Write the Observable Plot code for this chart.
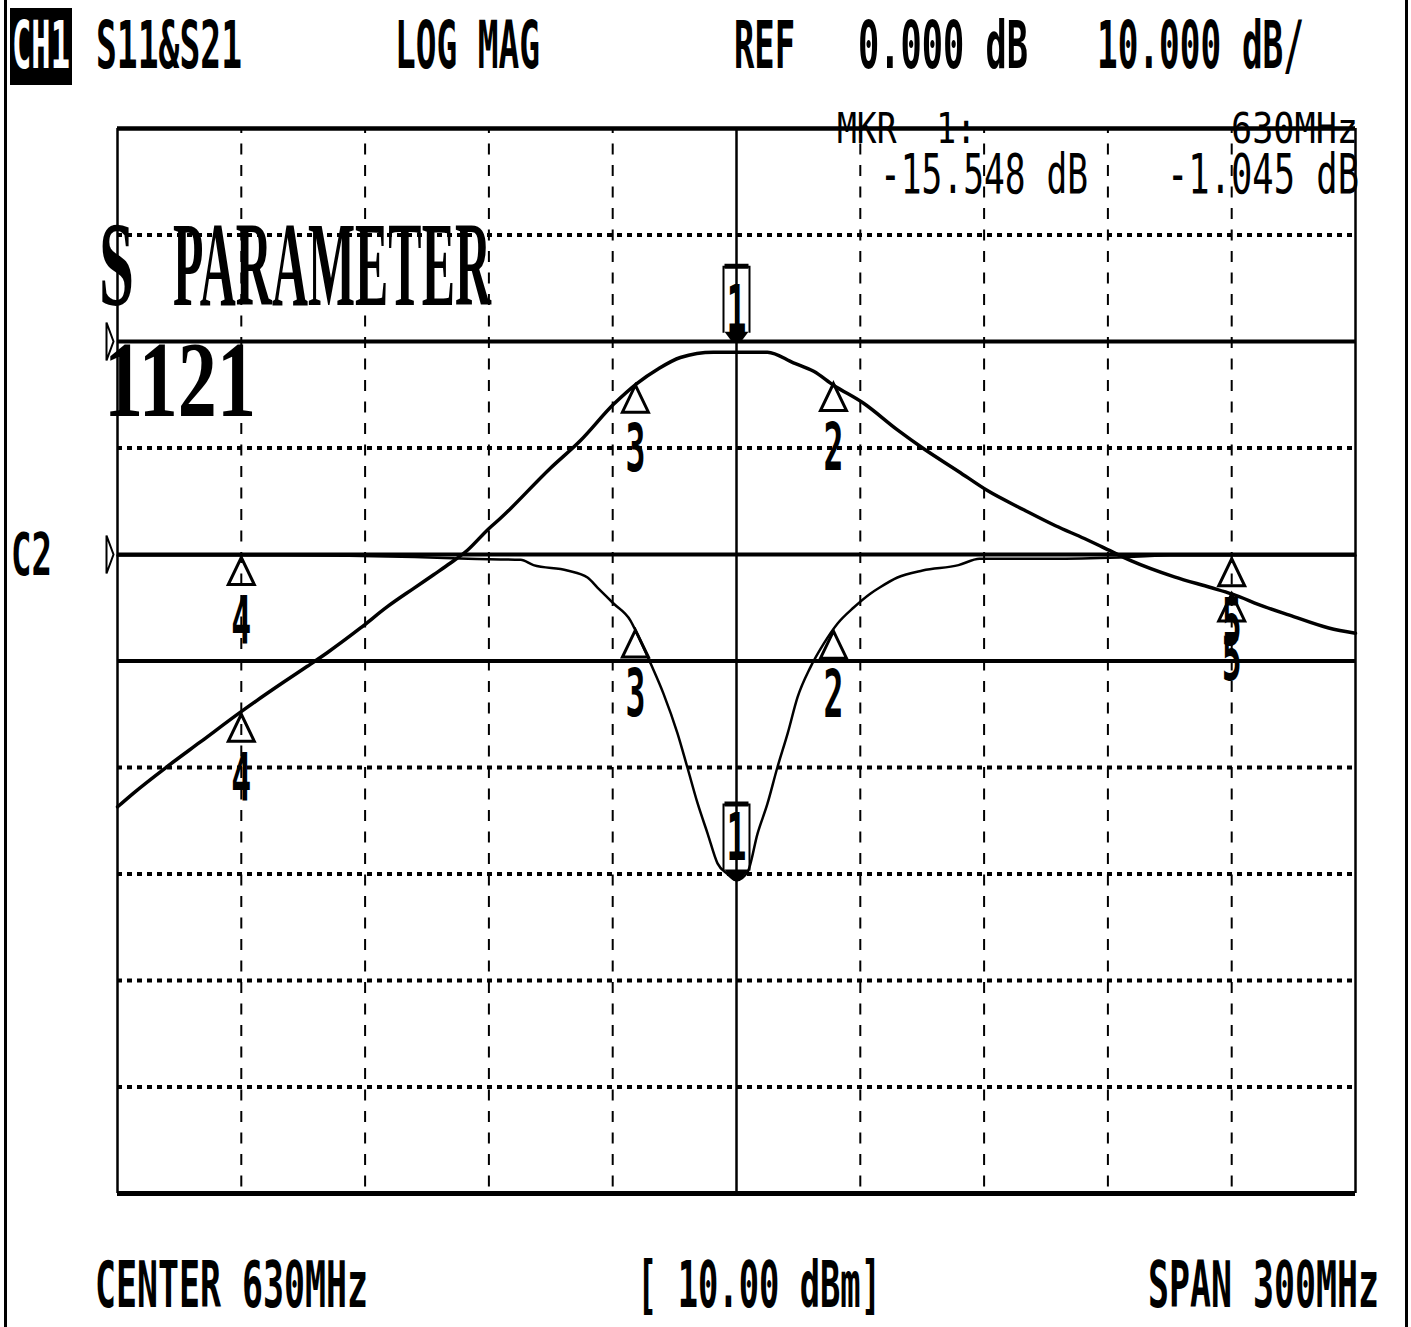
<!DOCTYPE html>
<html><head><meta charset="utf-8">
<script src="https://cdn.jsdelivr.net/npm/d3@7"></script>
<script src="https://cdn.jsdelivr.net/npm/@observablehq/plot@0.6"></script>
<style>
html,body{margin:0;padding:0;background:#fff;}
#chart{width:1411px;height:1327px;position:relative;}
</style></head><body><div id="chart"></div>
<script>
// ---- data (frequencies in MHz, levels in dB) ----
const freqS21 = [480, 483.9, 492.1, 500.1, 509.8, 520.2, 526.0, 530.9, 538.9, 545.4, 551.7, 556.6, 560.7, 564.8, 569.9, 572.8, 584.9, 592.2, 600.2, 606.0, 610.9, 616.4, 624.4, 630.0, 637.5, 643.8, 648.7, 653.5, 660.8, 669.0, 675.1, 683.8, 690.8, 699.6, 707.3, 714.3, 718.7, 725.7, 736.1, 744.9, 750.0, 757.9, 764.0, 773.5, 780];
const s21dB    = [-43.7, -42.4, -39.9, -37.6, -34.8, -32.0, -30.5, -29.2, -26.9, -24.9, -23.2, -21.9, -20.8, -19.6, -17.6, -16.6, -11.9, -9.3, -5.9, -3.9, -2.6, -1.5, -1.0, -1.0, -1.0, -2.0, -2.8, -4.1, -5.8, -8.3, -10.0, -12.2, -14.0, -15.8, -17.3, -18.5, -19.3, -20.6, -22.1, -23.1, -23.7, -24.9, -25.7, -26.9, -27.4];

const freqS11 = [480, 520, 552, 565, 577.7, 580.8, 589.0, 593.9, 596.3, 600.2, 604.3, 606.0, 609.2, 612.3, 615.7, 618.1, 620.6, 623.0, 625.4, 627.8, 630.0, 632.7, 635.1, 637.5, 639.9, 642.4, 644.8, 647.9, 651.1, 654.5, 658.4, 662.5, 664.7, 669.0, 675.1, 683.8, 688.9, 705, 720.4, 735, 780];
const s11dB    = [-0.05, -0.05, -0.12, -0.2, -0.25, -0.5, -0.75, -1.08, -1.55, -2.3, -3.1, -3.75, -5.12, -6.53, -8.4, -10.0, -11.7, -13.1, -14.5, -15.0, -15.3, -14.9, -13.1, -11.7, -10.0, -8.4, -6.7, -5.3, -4.2, -3.24, -2.49, -1.83, -1.55, -1.08, -0.75, -0.5, -0.2, -0.2, -0.15, -0.05, -0.05];

const markerIds   = ["1", "2", "3", "4", "5"];
const markerFreqs = [630, 653.5, 605.5, 510, 750];
const markerS21   = [-1.045, -3.95, -4.1, -35.0, -23.7];
const markerS11   = [-15.3, -3.6, -3.55, -0.14, -0.2];

const dashedGridFreqs = [510, 540, 570, 600, 660, 690, 720, 750];
const centerFreq = 630, startFreq = 480, stopFreq = 780;
const topDb = 20, bottomDb = -80;
const dottedGridDb = [10, -10, -40, -50, -60, -70];
const solidGridDb = [0, -20, -30];
const refPositionsDb = [0, -20];        // CH1 reference, C2 reference
const s11RefDb = -20, s11Factor = 2;    // S11 drawn at 5 dB/div about the C2 reference

// ---- build tables ----
const s21 = freqS21.map((f, i) => ({f, v: s21dB[i]}));
const s11 = freqS11.map((f, i) => ({f, v: s11RefDb + s11Factor * s11dB[i]}));
const mk21 = markerIds.map((id, i) => ({id, f: markerFreqs[i], v: markerS21[i]}));
const mk11 = markerIds.map((id, i) => ({id, f: markerFreqs[i], v: s11RefDb + s11Factor * markerS11[i]}));
const tri = [...mk21, ...mk11].filter(d => d.id !== "1");
const main21 = mk21.filter(d => d.id === "1");
const main11 = mk11.filter(d => d.id === "1");

// ---- custom marker shapes ----
const triangleSym = {draw(c) { c.moveTo(0, 0); c.lineTo(13, 27); c.lineTo(-13, 27); c.closePath(); }};
const boxSym = {draw(c) { c.moveTo(-13, -10); c.lineTo(-13, -76); c.lineTo(13, -76); c.lineTo(13, -10); }};
const boxBarsSym = {draw(c) { c.rect(-12, -79, 24, 5); c.moveTo(-12, -11); c.lineTo(12, -11); c.lineTo(6, -3); c.lineTo(3, 0); c.lineTo(-3, 0); c.lineTo(-6, -3); c.closePath(); }};
const refArrowSym = {draw(c) { c.moveTo(-11, -19); c.lineTo(-4, 0); c.lineTo(-11, 19); c.closePath(); }};

const mono = "'DejaVu Sans Mono', 'Liberation Mono', monospace";

const chart = Plot.plot({
  width: 1411, height: 1327,
  marginLeft: 117, marginRight: 56, marginTop: 128, marginBottom: 134,
  x: {domain: [startFreq, stopFreq], axis: null},
  y: {domain: [bottomDb, topDb], axis: null},
  style: {background: "white", fontFamily: mono},
  marks: [
    Plot.ruleX(dashedGridFreqs, {stroke: "black", strokeWidth: 2, strokeDasharray: "11,10.5", strokeDashoffset: 6}),
    Plot.ruleX([centerFreq], {stroke: "black", strokeWidth: 2.5}),
    Plot.ruleY(dottedGridDb, {stroke: "black", strokeWidth: 4, strokeDasharray: "5,5"}),
    Plot.ruleY(solidGridDb, {stroke: "black", strokeWidth: 4}),
    Plot.ruleY([topDb], {stroke: "black", strokeWidth: 4.5}),
    Plot.ruleY([bottomDb], {stroke: "black", strokeWidth: 5}),
    Plot.ruleX([startFreq, stopFreq], {stroke: "black", strokeWidth: 2.5}),
    Plot.line(s21, {x: "f", y: "v", stroke: "black", strokeWidth: 3.5, curve: "monotone-x"}),
    Plot.line(s11, {x: "f", y: "v", stroke: "black", strokeWidth: 2.5, curve: "monotone-x"}),
    Plot.dot(tri, {x: "f", y: "v", symbol: triangleSym, fill: "none", stroke: "black", strokeWidth: 3}),
    Plot.text(tri, {x: "f", y: "v", text: "id", dy: 86, lineAnchor: "bottom", fontSize: 66, fontFamily: mono, fontWeight: "bold", fill: "black"}),
    Plot.dot(main21, {x: "f", y: "v", symbol: boxSym, dy: -10, fill: "none", stroke: "black", strokeWidth: 2}),
    Plot.dot(main21, {x: "f", y: "v", symbol: boxBarsSym, dy: -10, fill: "black", stroke: "none"}),
    Plot.text(main21, {x: "f", y: "v", text: "id", dy: -21, lineAnchor: "bottom", fontSize: 66, fontFamily: mono, fontWeight: "bold", fill: "black"}),
    Plot.dot(main11, {x: "f", y: "v", symbol: boxSym, fill: "none", stroke: "black", strokeWidth: 2}),
    Plot.dot(main11, {x: "f", y: "v", symbol: boxBarsSym, fill: "black", stroke: "none"}),
    Plot.text(main11, {x: "f", y: "v", text: "id", dy: -20, lineAnchor: "bottom", fontSize: 66, fontFamily: mono, fontWeight: "bold", fill: "black"}),
    Plot.dot(refPositionsDb, {x: () => startFreq, y: d => d, symbol: refArrowSym, fill: "white", stroke: "black", strokeWidth: 2})
  ]
});

// narrow marker digits
chart.querySelectorAll('g[aria-label="text"] text').forEach(t => {
  t.setAttribute("textLength", 20);
  t.setAttribute("lengthAdjust", "spacingAndGlyphs");
});

document.getElementById("chart").appendChild(chart);

// ---- annotation texts of the analyzer screen ----
const svg = d3.select(chart);
const ann = svg.append("g").attr("text-anchor", "start");
function txt(str, x, y, size, len, opts = {}) {
  ann.append("text")
    .attr("x", x).attr("y", y)
    .attr("text-anchor", "start")
    .attr("font-family", opts.family || mono)
    .attr("font-weight", opts.weight || "bold")
    .attr("font-size", size)
    .attr("fill", opts.fill || "black")
    .attr("textLength", len)
    .attr("lengthAdjust", "spacingAndGlyphs")
    .text(str);
}
// screen edges
ann.append("line").attr("x1", 5.5).attr("x2", 5.5).attr("y1", 0).attr("y2", 1327).attr("stroke", "black").attr("stroke-width", 3);
ann.append("line").attr("x1", 1406.5).attr("x2", 1406.5).attr("y1", 0).attr("y2", 1327).attr("stroke", "black").attr("stroke-width", 3);

// header
ann.append("rect").attr("x", 10).attr("y", 8).attr("width", 62).attr("height", 77).attr("fill", "black");
txt("CH1", 12, 68, 66, 58, {fill: "white"});
txt("S11&S21", 96, 68, 66, 146);
txt("LOG MAG", 395, 68, 66, 145);
txt("REF", 734, 68, 66, 61);
txt("0.000 dB", 858, 68, 66, 170);
txt("10.000 dB/", 1097, 68, 66, 207);

// marker readout
txt("MKR  1:", 837, 143, 42, 139, {weight: "normal"});
txt("630MHz", 1231, 143, 42, 127, {weight: "normal"});
txt("-15.548 dB", 880, 193, 55, 208, {weight: "normal"});
txt("-1.045 dB", 1167, 193, 55, 192, {weight: "normal"});

// title inside the grid
const serif = "'Liberation Serif', 'DejaVu Serif', serif";
txt("S", 99, 305, 121, 35, {family: serif});
txt("PARAMETER", 173, 305, 121, 318, {family: serif});
txt("1121", 104, 416, 109, 152, {family: serif});

// channel 2 reference label
txt("C2", 11, 575, 59, 41);

// footer
txt("CENTER 630MHz", 95, 1307, 64, 273);
txt("[ 10.00 dBm]", 637, 1307, 64, 244);
txt("SPAN 300MHz", 1148, 1307, 64, 231);
</script>
</body></html>
